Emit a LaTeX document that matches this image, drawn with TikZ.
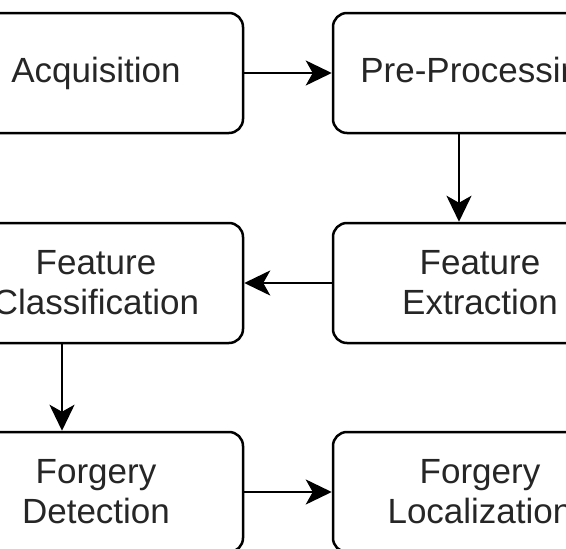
\documentclass[tikz,border=0pt]{standalone}
\usepackage{fontspec}
\setmainfont{Liberation Sans}
\usetikzlibrary{arrows.meta}

\begin{document}
\begin{tikzpicture}[x=1pt,y=-1pt,
  stage/.style={draw, line width=2.5pt, rounded corners=14pt,
    minimum width=294pt, minimum height=120pt, align=center,
    font=\fontsize{35}{40}\selectfont, text=black!85},
  flow/.style={line width=2.5pt, -{Stealth[length=26pt,width=25pt,inset=7pt]}}]
\useasboundingbox (0,0) rectangle (566,549);
\clip (0,0) rectangle (566,549);
% stages of the pipeline
\node[stage] (acq) at (96,73) {Acquisition};
\node[stage] (pre) at (480,73) {Pre-Processing};
\node[stage] (ext) at (480,283) {Feature\\Extraction};
\node[stage] (cls) at (96,283) {Feature\\Classification};
\node[stage] (det) at (96,492) {Forgery\\Detection};
\node[stage] (loc) at (480,492) {Forgery\\Localization};
% connectors
\draw[flow] (acq) -- (pre);
\draw[flow] ([xshift=-21pt]pre.south) -- ([xshift=-21pt]ext.north);
\draw[flow] (ext) -- (cls);
\draw[flow] ([xshift=-34pt]cls.south) -- ([xshift=-34pt]det.north);
\draw[flow] (det) -- (loc);
\end{tikzpicture}
\end{document}
